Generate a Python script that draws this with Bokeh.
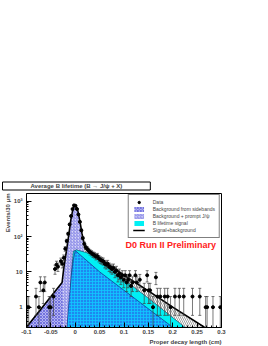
import math
from bokeh.plotting import figure
from bokeh.models import (FixedTicker, CustomJSTickFormatter, Label, Legend,
                          LegendItem, Range1d, Title)
from bokeh.embed import file_html
from bokeh.resources import INLINE

# ---------------- data ----------------
data_x = [-0.0985, -0.0955, -0.0805, -0.0745, -0.0715, -0.0655, -0.0625, -0.0535,
          -0.0505, -0.0445, -0.0415, -0.0385, -0.0355, -0.0295, -0.0265,
          -0.0235, -0.0205, -0.0175, -0.0145, -0.0115, -0.0085, -0.0055, -0.0025,
          0.0005, 0.0035, 0.0065, 0.0095, 0.0125, 0.0155, 0.0185, 0.0215, 0.0245,
          0.0275, 0.0305, 0.0335, 0.0365, 0.0395, 0.0425, 0.0455, 0.0485, 0.0515,
          0.0545, 0.0575, 0.0605, 0.0635, 0.0665, 0.0695, 0.0725, 0.0755, 0.0785,
          0.0815, 0.0845, 0.0875, 0.0905, 0.0935, 0.0965, 0.0995, 0.1025, 0.1055,
          0.1085, 0.1115, 0.1145, 0.1175, 0.1235, 0.1265, 0.1325, 0.1415, 0.1475,
          0.1505, 0.1535, 0.1595, 0.1655, 0.1685, 0.1745, 0.1835, 0.1895, 0.1955,
          0.2045, 0.2135, 0.2225, 0.2405, 0.2555, 0.2675, 0.2705, 0.2825, 0.2975]
data_y = [1, 1, 2, 1, 5, 3, 5, 1,
          1, 2, 12, 16, 14, 20, 17,
          25, 45, 75, 120, 220, 380, 600, 760,
          740, 600, 420, 260, 150, 90, 62, 50, 45,
          40, 36, 34, 31, 30, 27, 28, 24, 22,
          21, 20, 17, 16, 17, 14, 13, 12, 13,
          10, 11, 8, 9, 7, 8, 6, 8, 5,
          6, 8, 4, 5, 8, 5, 6, 3, 8,
          3, 3, 1, 7, 2, 2, 2, 2, 1,
          2, 2, 2, 2, 2, 1, 1, 1, 1]

# fitted curves
total_x = [-0.1, -0.027, -0.0235, -0.018, -0.013, -0.009, -0.005, -0.002, 0.001,
           0.005, 0.009, 0.014, 0.018, 0.021, 0.027, 0.05, 0.1, 0.15, 0.2, 0.265]
total_y = [0.27, 5.0, 13, 40, 118, 300, 580, 740, 730,
           560, 300, 118, 65, 45, 38, 24, 8.0, 2.9, 1.0, 0.27]

prompt_x = [-0.1, -0.027, -0.0235, -0.018, -0.013, -0.009, -0.005, -0.002, 0.001,
            0.005, 0.009, 0.014, 0.017, 0.025, 0.04]
prompt_y = [0.27, 5.0, 13, 40, 118, 300, 580, 740, 730,
            560, 300, 118, 45, 3, 0.27]

side_left_x = [-0.1, -0.027, -0.025]
side_left_y = [0.27, 5.0, 0.27]

signal_x = [-0.012, -0.008, -0.004, 0.002, 0.03, 0.1, 0.15, 0.225]
signal_y = [0.27, 8, 38, 42, 33, 6.0, 1.8, 0.27]

side_x = [-0.017, -0.012, -0.008, -0.004, 0.0, 0.05, 0.2]
side_y = [0.27, 2, 8, 22, 40, 10, 0.27]

x_ticks = [-0.1, -0.05, 0.0, 0.05, 0.1, 0.15, 0.2, 0.25, 0.3]
x_minor = [-0.09, -0.08, -0.07, -0.06, -0.04, -0.03, -0.02, -0.01, 0.01, 0.02, 0.03,
           0.04, 0.06, 0.07, 0.08, 0.09, 0.11, 0.12, 0.13, 0.14, 0.16, 0.17, 0.18,
           0.19, 0.21, 0.22, 0.23, 0.24, 0.26, 0.27, 0.28, 0.29]
y_ticks = [1, 10, 100, 1000]
y_tick_labels = ["1", "10", "10\u00b2", "10\u00b3"]
y_minor = [0.3, 0.4, 0.5, 0.6, 0.7, 0.8, 0.9, 2, 3, 4, 5, 6, 7, 8, 9,
           20, 30, 40, 50, 60, 70, 80, 90, 200, 300, 400, 500, 600, 700, 800, 900]

FONT = "Liberation Sans"
FLOOR = 0.1

p = figure(width=268, height=346, y_axis_type="log", output_backend="svg",
           toolbar_location=None, x_range=Range1d(-0.1, 0.3),
           y_range=Range1d(0.266, 1650),
           min_border_left=26, min_border_right=47, min_border_top=193,
           min_border_bottom=19)
p.background_fill_color = "white"
p.border_fill_color = "white"
p.outline_line_color = "black"
p.outline_line_width = 1
p.xgrid.visible = False
p.ygrid.visible = False

# layers
r_tot_area = p.varea(x=total_x, y1=FLOOR, y2=total_y, fill_color="white",
                     hatch_pattern="\\", hatch_color="#444444", hatch_scale=4,
                     hatch_weight=0.5)
r_prompt = p.varea(x=prompt_x, y1=FLOOR, y2=prompt_y, fill_color="#d6d6f8",
                   hatch_pattern="/", hatch_color="#6262dc", hatch_scale=3,
                   hatch_weight=0.7)
r_side_left = p.varea(x=side_left_x, y1=FLOOR, y2=side_left_y, fill_color="#b4b4f2",
                      hatch_pattern="x", hatch_color="#4646d0", hatch_scale=3,
                      hatch_weight=0.6)
r_signal = p.varea(x=signal_x, y1=FLOOR, y2=signal_y, fill_color="#00f0f4")
p.line(signal_x, signal_y, line_color="#103050", line_width=0.6)
r_side = p.varea(x=side_x, y1=FLOOR, y2=side_y, fill_color="#1e88f0",
                 hatch_pattern="+", hatch_color="#10c8ff", hatch_scale=3,
                 hatch_weight=0.8)
p.line(side_x, side_y, line_color="#102070", line_width=0.6)
r_total = p.line(total_x, total_y, line_color="black", line_width=1.6)

# data with error bars
lo = [max(v - math.sqrt(v), FLOOR) for v in data_y]
hi = [v + math.sqrt(v) for v in data_y]
p.segment(x0=data_x, y0=lo, x1=data_x, y1=hi, line_color="#404040", line_width=0.7)
p.scatter(data_x, hi, marker="dash", size=3, line_color="#404040", line_width=0.7)
p.scatter(data_x, lo, marker="dash", size=3, line_color="#404040", line_width=0.7)
r_data = p.scatter(data_x, data_y, marker="circle", size=3.0, fill_color="black",
                   line_color="black")

# axes
p.xaxis.ticker = FixedTicker(ticks=x_ticks, minor_ticks=x_minor)
p.xaxis.formatter = CustomJSTickFormatter(code="return String(Math.round(tick*1000)/1000)")
p.yaxis.ticker = FixedTicker(ticks=y_ticks, minor_ticks=y_minor)
p.yaxis.formatter = CustomJSTickFormatter(
    args=dict(t=y_ticks, l=y_tick_labels),
    code="for (let i=0;i<t.length;i++){ if (Math.abs(t[i]-tick)<1e-6*t[i]) return l[i]; } return ''")
for ax in (p.xaxis[0], p.yaxis[0]):
    ax.major_tick_in = 5
    ax.major_tick_out = 0
    ax.minor_tick_in = 2
    ax.minor_tick_out = 0
    ax.axis_line_color = "black"
    ax.major_label_text_font = FONT
    ax.major_label_text_font_style = "bold"
    ax.major_label_text_font_size = "6px"
    ax.major_label_standoff = 2
p.yaxis.major_label_standoff = 4

# legend
legend = Legend(items=[
    LegendItem(label="Data", renderers=[r_data]),
    LegendItem(label="Background from sidebands", renderers=[r_side_left]),
    LegendItem(label="Background + prompt J/\u03c8", renderers=[r_prompt]),
    LegendItem(label="B lifetime signal", renderers=[r_signal]),
    LegendItem(label="Signal+background", renderers=[r_total]),
], location="top_right")
legend.margin = 1
legend.padding = 4
legend.spacing = 1
legend.glyph_width = 12
legend.glyph_height = 6
legend.label_height = 6
legend.label_standoff = 8
legend.label_text_font = FONT
legend.label_text_font_size = "5px"
legend.border_line_color = "black"
legend.border_line_width = 1.5
legend.background_fill_alpha = 1
p.add_layout(legend)

# texts
p.add_layout(Label(x=0.103, y=78, x_units="data", y_units="screen",
                   text="D0 Run II Preliminary", text_color="#ff2020",
                   text_font=FONT, text_font_style="bold", text_font_size="9px",
                   text_baseline="bottom"))
p.add_layout(Title(text="Average B lifetime (B \u2192 J/\u03c8 + X)", align="left",
                   offset=-24, standoff=7, text_font=FONT, text_font_style="bold",
                   text_font_size="6px", background_fill_color="white",
                   border_line_color="black", border_line_width=1,
                   padding=dict(left=28, right=28, top=1, bottom=1)), "above")
p.add_layout(Title(text="Proper decay length (cm)", align="right", standoff=0,
                   text_font=FONT, text_font_style="bold", text_font_size="6px"),
             "below")
p.add_layout(Title(text="Events/30 \u03bcm", align="right", standoff=0,
                   text_font=FONT, text_font_style="bold", text_font_size="6px"),
             "left")

open("out.html", "w").write(file_html(p, INLINE))
